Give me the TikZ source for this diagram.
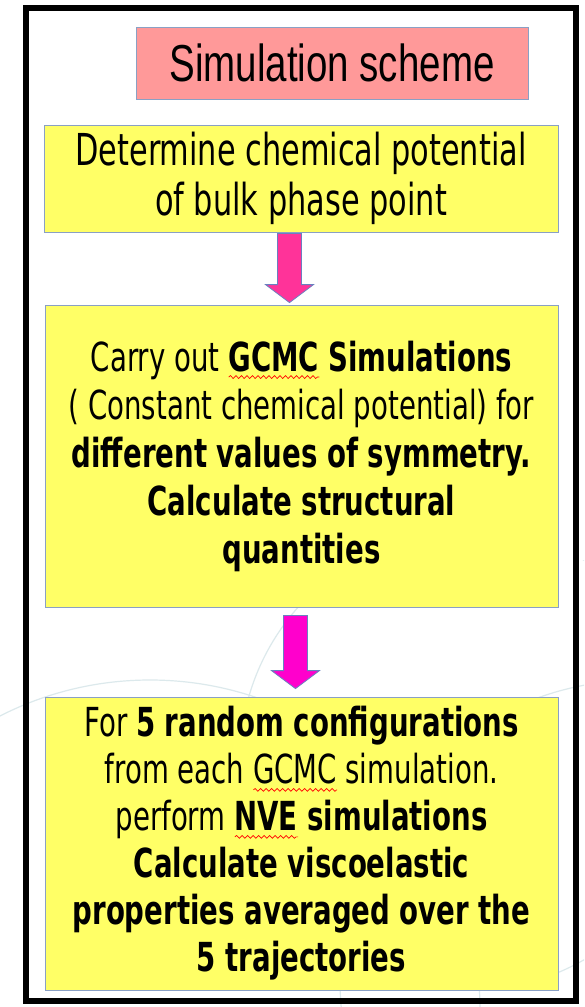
\documentclass[tikz,border=0pt]{standalone}
\usepackage{fontspec}
\usepackage{tikz}
\usetikzlibrary{calc,decorations.pathmorphing}

\setmainfont{DejaVu Sans}[FakeStretch=0.69]
\newfontfamily\titlefont{Liberation Sans}[FakeStretch=0.74]

\definecolor{boxyellow}{HTML}{FFFF66}
\definecolor{titlepink}{HTML}{FF9999}
\definecolor{boxedge}{HTML}{8AA0C4}
\definecolor{arrowpink}{HTML}{FF3399}
\definecolor{arrowmagenta}{HTML}{FF00CC}
\definecolor{arrowedge}{HTML}{6A80C0}
\definecolor{bgline}{HTML}{DCE9EC}

% wavy red mark under a word
\newsavebox\spellbox
\newcommand\spellerr[1]{\sbox\spellbox{#1}%
  \makebox[0pt][l]{\tikz[baseline=0pt]\draw[red, line width=0.7pt, decorate,
    decoration={snake, amplitude=1.4pt, segment length=5.5pt}] (0pt,-6pt) -- (\wd\spellbox,-6pt);}%
  \usebox\spellbox}

% block arrow from #1 down to #2
\newcommand\fatarrow[3]{%
  \draw[arrowline, fill=#3] ($(#1)+(-12,0)$) -- ($(#2)+(-12,-18)$) -- ($(#2)+(-24,-18)$)
    -- (#2) -- ($(#2)+(24,-18)$) -- ($(#2)+(12,-18)$) -- ($(#1)+(12,0)$) -- cycle;}

\tikzset{
  stepbox/.style={draw=boxedge, line width=0.8pt, fill=boxyellow, align=center, inner sep=0pt},
  titlebox/.style={draw=boxedge, line width=0.8pt, fill=titlepink, inner sep=0pt,
    minimum width=392pt, minimum height=72pt, font=\titlefont\fontsize{52}{60}\selectfont},
  arrowline/.style={draw=arrowedge, line width=0.8pt, line join=miter},
}

\begin{document}
\begin{tikzpicture}[x=1pt, y=-1pt]
\useasboundingbox (0,0) rectangle (584,1007);
\fill[white] (0,0) rectangle (584,1007);
% faint background curves
\begin{scope}
\clip (0,560) rectangle (584,1007);
\draw[bgline, line width=1.2pt] (470,760) circle (230);
\draw[bgline, line width=1.2pt] (150,1010) circle (330);
\draw[bgline, line width=1.2pt] (640,980) circle (300);
\end{scope}
% frame
\draw[line width=6pt] (26,8) rectangle (576,1001);
% title
\node[titlebox] (title) at (332,63) {Simulation scheme};
% steps
\node[stepbox, minimum width=514pt, minimum height=107pt,
  font=\fontsize{44}{50}\selectfont] (b1) at (301,178.5)
  {Determine chemical potential\\of bulk phase point};
\node[stepbox, minimum width=513pt, minimum height=302pt,
  font=\fontsize{40}{48}\selectfont] (b2) at (301.5,456)
  {Carry out \textbf{\spellerr{GCMC} Simulations}\\( Constant chemical potential) for\\
   \textbf{different values of symmetry.}\\\textbf{Calculate structural}\\\textbf{quantities}};
\node[stepbox, minimum width=513pt, minimum height=293pt,
  font=\fontsize{40}{47}\selectfont] (b3) at (301.5,843.5)
  {For \textbf{5 random configurations}\\from each \spellerr{GCMC} simulation.\\
   perform \textbf{\spellerr{NVE} simulations}\\\textbf{Calculate viscoelastic}\\
   \textbf{properties averaged over the}\\\textbf{5 trajectories}};
% arrows
\path (b1.south) ++(-11.5,1) coordinate (a1s);
\path (b2.north) ++(-12,-2) coordinate (a1e);
\path (b2.south) ++(-6,8) coordinate (a2s);
\path (b3.north) ++(-6,-8) coordinate (a2e);
\fatarrow{a1s}{a1e}{arrowpink}
\fatarrow{a2s}{a2e}{arrowmagenta}
\end{tikzpicture}
\end{document}
